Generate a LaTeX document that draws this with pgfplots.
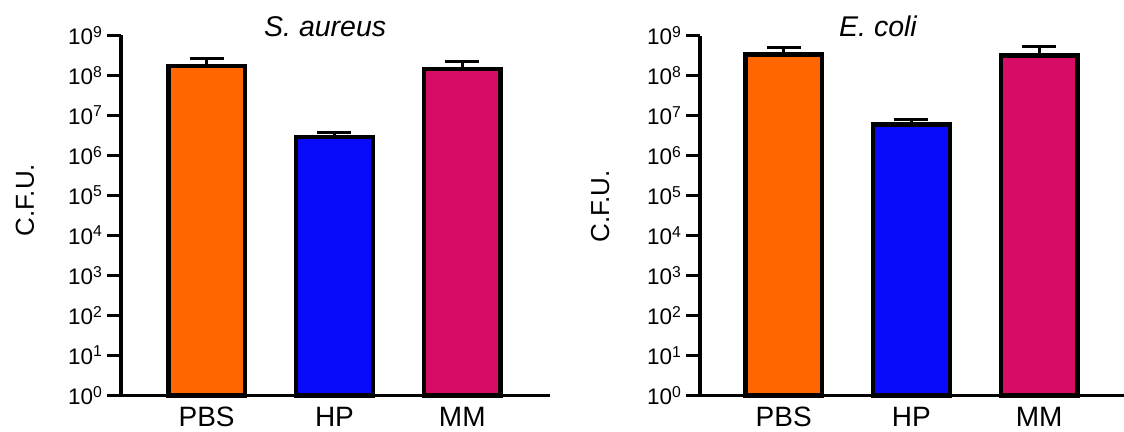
\documentclass[border=0pt]{standalone}
\usepackage{fontspec}
\setmainfont{Liberation Sans}
\usepackage{pgfplots}
\pgfplotsset{compat=1.18}
\definecolor{cPBS}{RGB}{255,102,0}
\definecolor{cHP}{RGB}{10,10,250}
\definecolor{cMM}{RGB}{214,12,102}
\pgfplotsset{every axis/.append style={
    scale only axis,
    ymode=log, ymin=1, ymax=1e9, log origin=0,
    xmax=2.686,
    axis x line=bottom, axis y line=left,
    axis line style={-, line width=3.5bp, black},
    xtick={0,1,2}, xticklabels={PBS,HP,MM},
    x tick style={draw=none},
    ytick={1,10,100,1000,1e4,1e5,1e6,1e7,1e8,1e9},
    yticklabels={10\textsuperscript{0},10\textsuperscript{1},10\textsuperscript{2},10\textsuperscript{3},10\textsuperscript{4},10\textsuperscript{5},10\textsuperscript{6},10\textsuperscript{7},10\textsuperscript{8},10\textsuperscript{9}},
    yminorticks=false,
    tick align=outside, major tick length=14bp,
    y tick style={line width=3.5bp, black},
    yticklabel style={font=\fontsize{22.5bp}{26bp}\selectfont, anchor=east, xshift=-1bp},
    xticklabel style={font=\fontsize{28bp}{30bp}\selectfont, anchor=center, inner sep=0pt, yshift=-7.5bp},
    ybar, bar width=0.6, bar shift=0pt,
    clip=false,
    height=360bp,
}}
\pgfplotsset{errb/.style={draw=black, line width=4.5bp,
      error bars/.cd, y dir=plus, y explicit,
      error bar style={line width=3bp, black},
      error mark options={rotate=90, mark size=17bp, line width=3bp, black}}}
\begin{document}
\begin{tikzpicture}
\useasboundingbox (0,0) rectangle (1124bp,432bp);
\begin{axis}[xmin=-0.67, at={(121bp,36.6bp)}, anchor=south west, width=429bp]
\addplot[fill=cPBS, errb] coordinates {(0,1.7e8) +- (0,1.0e8)};
\addplot[fill=cHP, errb]  coordinates {(1,2.9e6) +- (0,0.8e6)};
\addplot[fill=cMM, errb]  coordinates {(2,1.45e8) +- (0,0.75e8)};
\node[font=\fontsize{28.5bp}{32bp}\selectfont\itshape] at (axis description cs:0.476,1.023) {S. aureus};
\node[font=\fontsize{26bp}{30bp}\selectfont, rotate=90] at (axis description cs:-0.224,0.543) {C.F.U.};
\end{axis}
\begin{axis}[xmin=-0.655, at={(700bp,36.4bp)}, anchor=south west, width=426.8bp]
\addplot[fill=cPBS, errb] coordinates {(0,3.35e8) +- (0,1.55e8)};
\addplot[fill=cHP, errb]  coordinates {(1,6.0e6) +- (0,2.2e6)};
\addplot[fill=cMM, errb]  coordinates {(2,3.2e8) +- (0,2.0e8)};
\node[font=\fontsize{28.5bp}{32bp}\selectfont\itshape] at (axis description cs:0.417,1.025) {E. coli};
\node[font=\fontsize{26bp}{30bp}\selectfont, rotate=90] at (axis description cs:-0.234,0.525) {C.F.U.};
\end{axis}
\end{tikzpicture}
\end{document}
